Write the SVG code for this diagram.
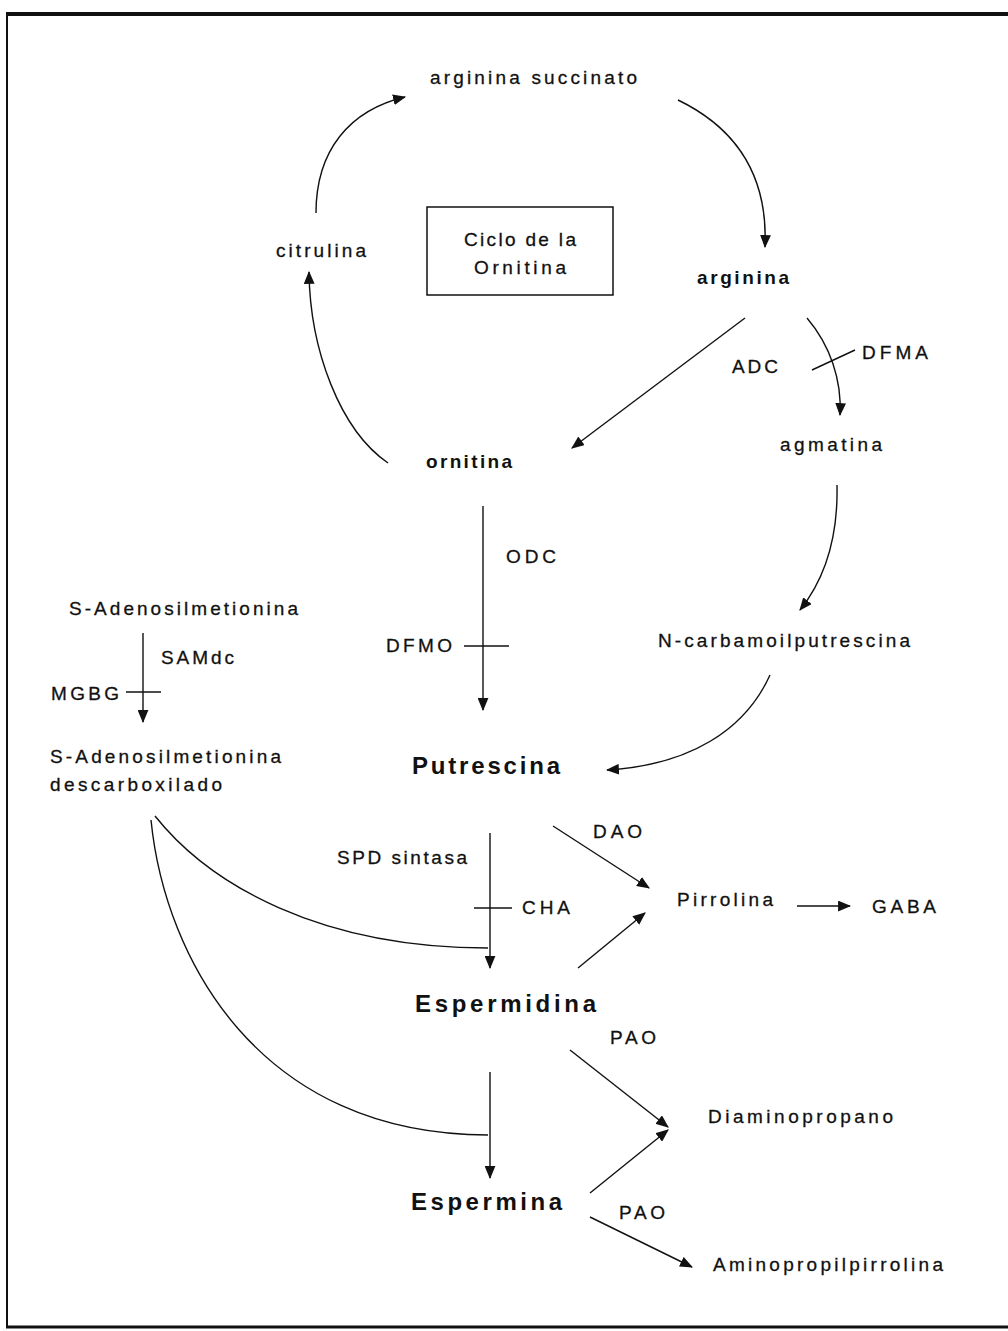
<svg xmlns="http://www.w3.org/2000/svg" width="1008" height="1331" viewBox="0 0 1008 1331">
<defs>
<marker id="ah" viewBox="0 0 12 10" refX="11" refY="5" markerWidth="13" markerHeight="11" markerUnits="userSpaceOnUse" orient="auto"><path d="M0,0 L12,5 L0,10 z" fill="#111"/></marker>
</defs>
<style>
text{font-family:"Liberation Sans",Arial,sans-serif;fill:#111;}
.n{font-size:19px;stroke:#111;stroke-width:0.3;}
.b{font-size:19px;font-weight:bold;}
.B{font-size:24px;font-weight:bold;}
.c{fill:none;stroke:#111;stroke-width:1.4;}
.a{fill:none;stroke:#111;stroke-width:1.4;marker-end:url(#ah);}
.i{fill:none;stroke:#111;stroke-width:1.4;}
</style>
<rect x="0" y="0" width="1008" height="1331" fill="#fff"/>
<g id="border" stroke="#111" fill="none">
<line x1="6" y1="14" x2="1008" y2="14" stroke-width="4"/>
<line x1="7" y1="13" x2="7" y2="1328" stroke-width="2"/>
<line x1="6" y1="1327" x2="1008" y2="1327" stroke-width="3"/>
</g>
<g id="connectors">
<path class="a" d="M316,213 C316,150 350,110 405,97"/>
<path class="a" d="M678,100 C740,130 768,180 765,247"/>
<path class="a" d="M388,463 C340,430 310,350 309,272"/>
<path class="a" d="M807,318 C830,345 842,380 840,415"/>
<path class="a" d="M837,485 C838,530 828,575 800,610"/>
<path class="a" d="M770,675 C745,730 690,765 607,770"/>
<path class="a" d="M745,318 L572,448"/>
<path class="a" d="M483,506 L483,710"/>
<path class="a" d="M143,633 L143,722"/>
<path class="a" d="M490,833 L490,968"/>
<path class="a" d="M490,1072 L490,1178"/>
<path class="a" d="M553,826 L649,888"/>
<path class="a" d="M578,968 L645,913"/>
<path class="a" d="M797,906 L850,906"/>
<path class="a" d="M570,1050 L668,1127"/>
<path class="a" d="M590,1193 L668,1130"/>
<path class="a" d="M590,1217 L692,1267"/>
<path class="c" d="M155,816 C210,885 320,948 488,948"/>
<path class="c" d="M151,820 C165,960 260,1135 488,1135"/>
<path class="i" d="M812,370 L855,350"/>
<path class="i" d="M464,646 L509,646"/>
<path class="i" d="M126,692 L161,692"/>
<path class="i" d="M474,908 L512,908"/>
</g>
<g id="box"><rect x="427" y="207" width="186" height="88" fill="none" stroke="#111" stroke-width="1.5"/>
<text class="n" x="520" y="246" text-anchor="middle" textLength="112" lengthAdjust="spacing">Ciclo de la</text>
<text class="n" x="520" y="274" text-anchor="middle" textLength="92" lengthAdjust="spacing">Ornitina</text></g>
<g id="argsucc"><text class="n" x="430" y="84" textLength="207" lengthAdjust="spacing">arginina succinato</text></g>
<g id="citrulina"><text class="n" x="276" y="257" textLength="90" lengthAdjust="spacing">citrulina</text></g>
<g id="arginina"><text class="b" x="697" y="284" textLength="92" lengthAdjust="spacing">arginina</text></g>
<g id="adc"><text class="n" x="732" y="373" textLength="46" lengthAdjust="spacing">ADC</text></g>
<g id="dfma"><text class="n" x="862" y="359" textLength="66" lengthAdjust="spacing">DFMA</text></g>
<g id="agmatina"><text class="n" x="780" y="451" textLength="102" lengthAdjust="spacing">agmatina</text></g>
<g id="ornitina"><text class="b" x="426" y="468" textLength="86" lengthAdjust="spacing">ornitina</text></g>
<g id="odc"><text class="n" x="506" y="563" textLength="50" lengthAdjust="spacing">ODC</text></g>
<g id="dfmo"><text class="n" x="386" y="652" textLength="66" lengthAdjust="spacing">DFMO</text></g>
<g id="ncarb"><text class="n" x="658" y="647" textLength="252" lengthAdjust="spacing">N-carbamoilputrescina</text></g>
<g id="sam"><text class="n" x="69" y="615" textLength="229" lengthAdjust="spacing">S-Adenosilmetionina</text></g>
<g id="samdc"><text class="n" x="161" y="664" textLength="73" lengthAdjust="spacing">SAMdc</text></g>
<g id="mgbg"><text class="n" x="51" y="700" textLength="68" lengthAdjust="spacing">MGBG</text></g>
<g id="dcsam"><text class="n" x="50" y="763" textLength="231" lengthAdjust="spacing">S-Adenosilmetionina</text>
<text class="n" x="50" y="791" textLength="172" lengthAdjust="spacing">descarboxilado</text></g>
<g id="putrescina"><text class="B" x="412" y="774" textLength="148" lengthAdjust="spacing">Putrescina</text></g>
<g id="spd"><text class="n" x="337" y="864" textLength="130" lengthAdjust="spacing">SPD sintasa</text></g>
<g id="cha"><text class="n" x="522" y="914" textLength="48" lengthAdjust="spacing">CHA</text></g>
<g id="dao"><text class="n" x="593" y="838" textLength="49" lengthAdjust="spacing">DAO</text></g>
<g id="pirrolina"><text class="n" x="677" y="906" textLength="96" lengthAdjust="spacing">Pirrolina</text></g>
<g id="gaba"><text class="n" x="872" y="913" textLength="64" lengthAdjust="spacing">GABA</text></g>
<g id="espermidina"><text class="B" x="415" y="1012" textLength="181" lengthAdjust="spacing">Espermidina</text></g>
<g id="pao1"><text class="n" x="610" y="1044" textLength="46" lengthAdjust="spacing">PAO</text></g>
<g id="diamino"><text class="n" x="708" y="1123" textLength="185" lengthAdjust="spacing">Diaminopropano</text></g>
<g id="espermina"><text class="B" x="411" y="1210" textLength="151" lengthAdjust="spacing">Espermina</text></g>
<g id="pao2"><text class="n" x="619" y="1219" textLength="46" lengthAdjust="spacing">PAO</text></g>
<g id="aminoprop"><text class="n" x="713" y="1271" textLength="230" lengthAdjust="spacing">Aminopropilpirrolina</text></g>
</svg>
